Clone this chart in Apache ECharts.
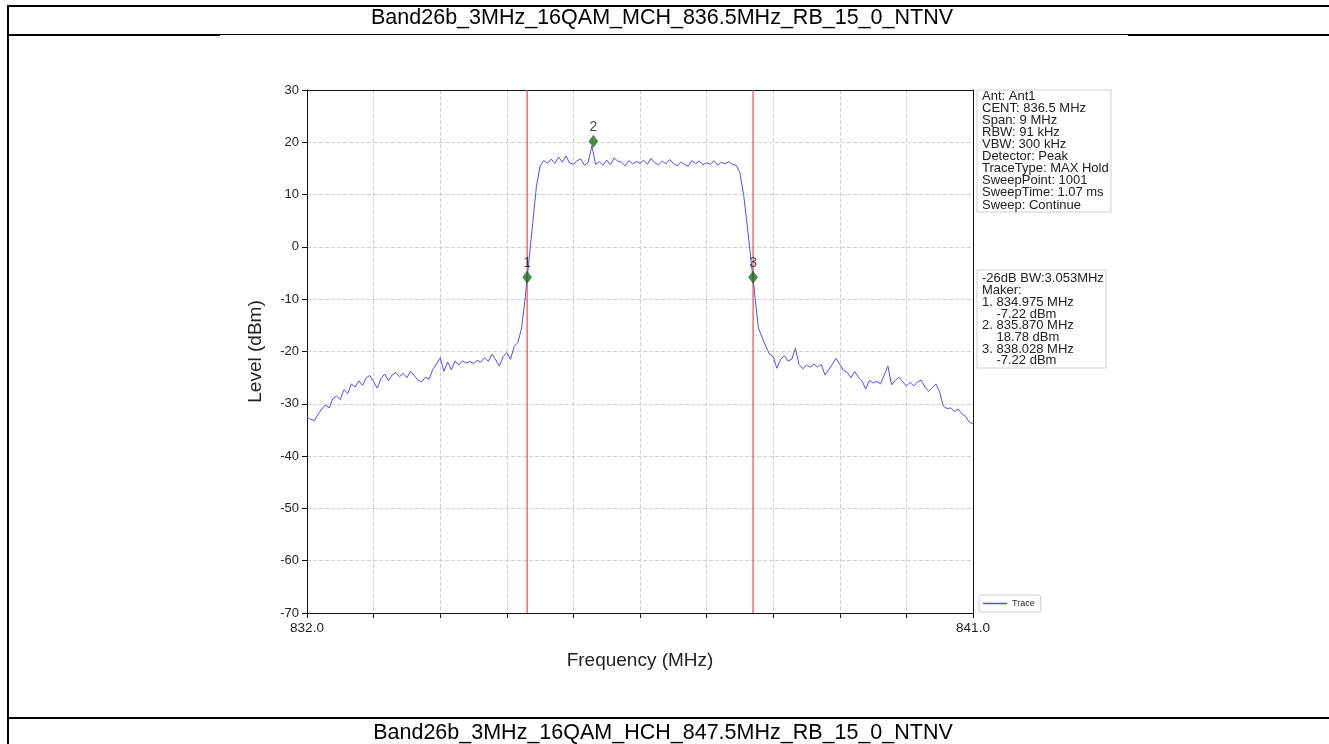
<!DOCTYPE html>
<html>
<head>
<meta charset="utf-8">
<script src="https://cdn.jsdelivr.net/npm/echarts@6/dist/echarts.min.js"></script>
<style>
html,body{margin:0;padding:0;background:#fff;}
#chart{width:1329px;height:744px;}
</style>
</head>
<body>
<div id="chart"></div>
<script>
// ---- data ----
const titleTop = 'Band26b_3MHz_16QAM_MCH_836.5MHz_RB_15_0_NTNV';
const titleBottom = 'Band26b_3MHz_16QAM_HCH_847.5MHz_RB_15_0_NTNV';
const freqStart = 832.0;
const freqStep = 0.05;
const traceLevels = [
  -32.5,-33.0,-33.2,-32.0,-31.0,-30.2,-30.8,-29.0,-28.5,-29.2,
  -27.3,-28.0,-26.2,-26.8,-25.6,-26.5,-25.0,-24.6,-25.8,-27.0,
  -25.2,-24.3,-25.6,-24.5,-24.0,-24.8,-24.2,-25.0,-23.8,-24.6,
  -25.5,-25.8,-24.9,-25.3,-23.4,-22.4,-21.2,-23.8,-22.0,-23.5,
  -21.8,-22.6,-21.8,-22.2,-21.9,-22.3,-21.7,-22.0,-21.2,-21.9,
  -20.5,-21.6,-22.8,-21.0,-20.2,-21.5,-19.0,-18.3,-15.5,-9.5,
  -2.5,4.5,11.5,15.5,16.5,16.0,16.8,16.0,17.2,16.2,
  17.4,16.0,15.8,16.5,16.8,15.6,16.2,19.3,15.8,16.3,
  15.6,16.6,15.7,17.0,16.4,16.2,15.5,16.5,15.9,16.3,
  16.0,16.6,15.8,16.9,16.1,15.7,16.4,15.9,16.7,16.0,
  15.5,16.2,15.8,15.4,16.5,15.9,16.4,15.7,16.1,15.8,
  16.5,15.6,16.2,15.9,16.3,15.8,15.6,14.2,10.0,4.0,
  -2.5,-9.0,-15.5,-17.3,-19.0,-20.5,-21.0,-23.2,-21.5,-20.8,
  -21.8,-21.5,-19.4,-22.5,-23.3,-22.6,-23.0,-22.4,-23.0,-22.5,
  -24.5,-23.5,-22.4,-21.3,-22.5,-23.6,-24.0,-25.0,-23.8,-24.9,
  -25.6,-27.2,-25.5,-26.0,-25.7,-26.2,-24.5,-22.8,-26.4,-25.5,
  -24.9,-25.8,-26.6,-25.9,-26.6,-25.8,-25.5,-26.8,-27.6,-26.9,
  -26.2,-27.8,-30.5,-30.9,-30.8,-31.5,-31.0,-31.9,-32.4,-33.5,
  -33.8
];
const markerNames = ['1', '2', '3'];
const markerFreqs = [834.975, 835.870, 838.028];
const markerLevels = [-5.8, 20.2, -5.8];
const boundaryFreqs = [834.975, 838.028];
const xMin = 832.0, xMax = 841.0, xInterval = 0.9;
const yMin = -70, yMax = 30, yInterval = 10;
const infoLines = ['Ant: Ant1','CENT: 836.5 MHz','Span: 9 MHz','RBW: 91 kHz','VBW: 300 kHz',
  'Detector: Peak','TraceType: MAX Hold','SweepPoint: 1001','SweepTime: 1.07 ms','Sweep: Continue'];
const markerInfoLines = ['-26dB BW:3.053MHz','Maker:','1. 834.975 MHz','    -7.22 dBm',
  '2. 835.870 MHz','    18.78 dBm','3. 838.028 MHz','    -7.22 dBm'];

// ---- build ----
const traceData = traceLevels.map((v, i) => [+(freqStart + i * freqStep).toFixed(3), v]);
const markerData = markerFreqs.map((f, i) => ({ name: markerNames[i], value: [f, markerLevels[i]] }));
const boundarySeries = boundaryFreqs.map((f, i) => ({
  name: 'bound' + i, type: 'line', data: [[f, yMin], [f, yMax]], showSymbol: false, silent: true,
  lineStyle: { color: '#f04848', width: 1.2 }, z: 2
}));

const FONT = '"Liberation Sans", Arial, sans-serif';
const gridLine = { show: true, lineStyle: { color: '#d0d0d0', type: [4, 2], width: 1 } };
const chart = echarts.init(document.getElementById('chart'), null, { renderer: 'canvas' });

chart.setOption({
  backgroundColor: '#fff',
  animation: false,
  textStyle: { fontFamily: FONT },
  grid: { left: 307, top: 90, right: 356, bottom: 131 },
  legend: {
    left: 979, top: 595, orient: 'vertical',
    padding: [4, 6, 4, 4], borderColor: '#ccc', borderWidth: 1, borderRadius: 2,
    backgroundColor: '#fff',
    itemWidth: 24, itemHeight: 1.5, itemGap: 4,
    textStyle: { fontSize: 9, color: '#222', fontFamily: FONT },
    data: [{ name: 'Trace', icon: 'rect' }]
  },
  xAxis: [{
    type: 'value', min: xMin, max: xMax, interval: xInterval,
    name: 'Frequency (MHz)', nameLocation: 'middle', nameGap: 38,
    nameTextStyle: { fontSize: 19, color: '#222', fontFamily: FONT },
    axisLine: { show: true, onZero: false, lineStyle: { color: '#111', width: 1 } },
    axisTick: { show: true, length: 5, lineStyle: { color: '#111' } },
    axisLabel: {
      fontSize: 13.5, color: '#222', margin: 8, showMinLabel: true, showMaxLabel: true,
      formatter: v => (Math.abs(v - xMin) < 1e-6 || Math.abs(v - xMax) < 1e-6) ? v.toFixed(1) : ''
    },
    splitLine: gridLine
  }, {
    type: 'value', position: 'top', min: xMin, max: xMax, interval: xInterval,
    axisLine: { show: true, onZero: false, lineStyle: { color: '#111', width: 1 } },
    axisTick: { show: false }, axisLabel: { show: false }, splitLine: { show: false }
  }],
  yAxis: [{
    type: 'value', min: yMin, max: yMax, interval: yInterval,
    name: 'Level (dBm)', nameLocation: 'middle', nameGap: 42, nameRotate: 90,
    nameTextStyle: { fontSize: 19, color: '#222', fontFamily: FONT },
    axisLine: { show: true, onZero: false, lineStyle: { color: '#111', width: 1 } },
    axisTick: { show: true, length: 5, lineStyle: { color: '#111' } },
    axisLabel: { fontSize: 13, color: '#222', margin: 8 },
    splitLine: gridLine
  }, {
    type: 'value', position: 'right', min: yMin, max: yMax, interval: yInterval,
    axisLine: { show: true, onZero: false, lineStyle: { color: '#111', width: 1 } },
    axisTick: { show: false }, axisLabel: { show: false }, splitLine: { show: false }
  }],
  series: [
    {
      name: 'Trace', type: 'line', data: traceData, showSymbol: false,
      lineStyle: { color: '#5050f0', width: 1 }, itemStyle: { color: '#5050f0' },
      z: 3
    },
    ...boundarySeries,
    {
      name: 'Markers', type: 'scatter', data: markerData,
      symbol: 'diamond', symbolSize: [9, 12],
      itemStyle: { color: '#1a701a', borderColor: '#104a10', borderWidth: 0.5 },
      label: { show: true, position: 'top', distance: 1, formatter: p => p.name, fontSize: 14, color: '#222', fontFamily: FONT },
      z: 5
    }
  ],
  graphic: [
    // frame lines
    { type: 'rect', shape: { x: 7, y: 5, width: 1322, height: 2 }, style: { fill: '#000' } },
    { type: 'rect', shape: { x: 7, y: 5, width: 2, height: 739 }, style: { fill: '#000' } },
    { type: 'rect', shape: { x: 7, y: 34, width: 213, height: 2 }, style: { fill: '#000' } },
    { type: 'rect', shape: { x: 1128, y: 34, width: 201, height: 2 }, style: { fill: '#000' } },
    { type: 'rect', shape: { x: 220, y: 34, width: 908, height: 1 }, style: { fill: '#000' } },
    { type: 'rect', shape: { x: 7, y: 717, width: 1322, height: 2 }, style: { fill: '#000' } },
    // titles
    { type: 'text', x: 662, y: 18.5, style: { text: titleTop, font: '21.5px "Liberation Sans", Arial, sans-serif', fill: '#000', textAlign: 'center', textVerticalAlign: 'middle' } },
    { type: 'text', x: 663, y: 733, style: { text: titleBottom, font: '21.5px "Liberation Sans", Arial, sans-serif', fill: '#000', textAlign: 'center', textVerticalAlign: 'middle' } },
    // info boxes
    { type: 'rect', shape: { x: 977, y: 90, width: 134, height: 122 }, style: { fill: '#fff', stroke: '#d0d0d0', lineWidth: 1 } },
    { type: 'text', x: 982, y: 90, style: { text: infoLines.join('\n'), font: '13px "Liberation Sans", Arial, sans-serif', lineHeight: 12.1, fill: '#222' } },
    { type: 'rect', shape: { x: 977, y: 270, width: 129, height: 98 }, style: { fill: '#fff', stroke: '#d0d0d0', lineWidth: 1 } },
    { type: 'text', x: 982, y: 273, style: { text: markerInfoLines.join('\n'), font: '13px "Liberation Sans", Arial, sans-serif', lineHeight: 11.7, fill: '#222' } }
  ]
});
</script>
</body>
</html>
